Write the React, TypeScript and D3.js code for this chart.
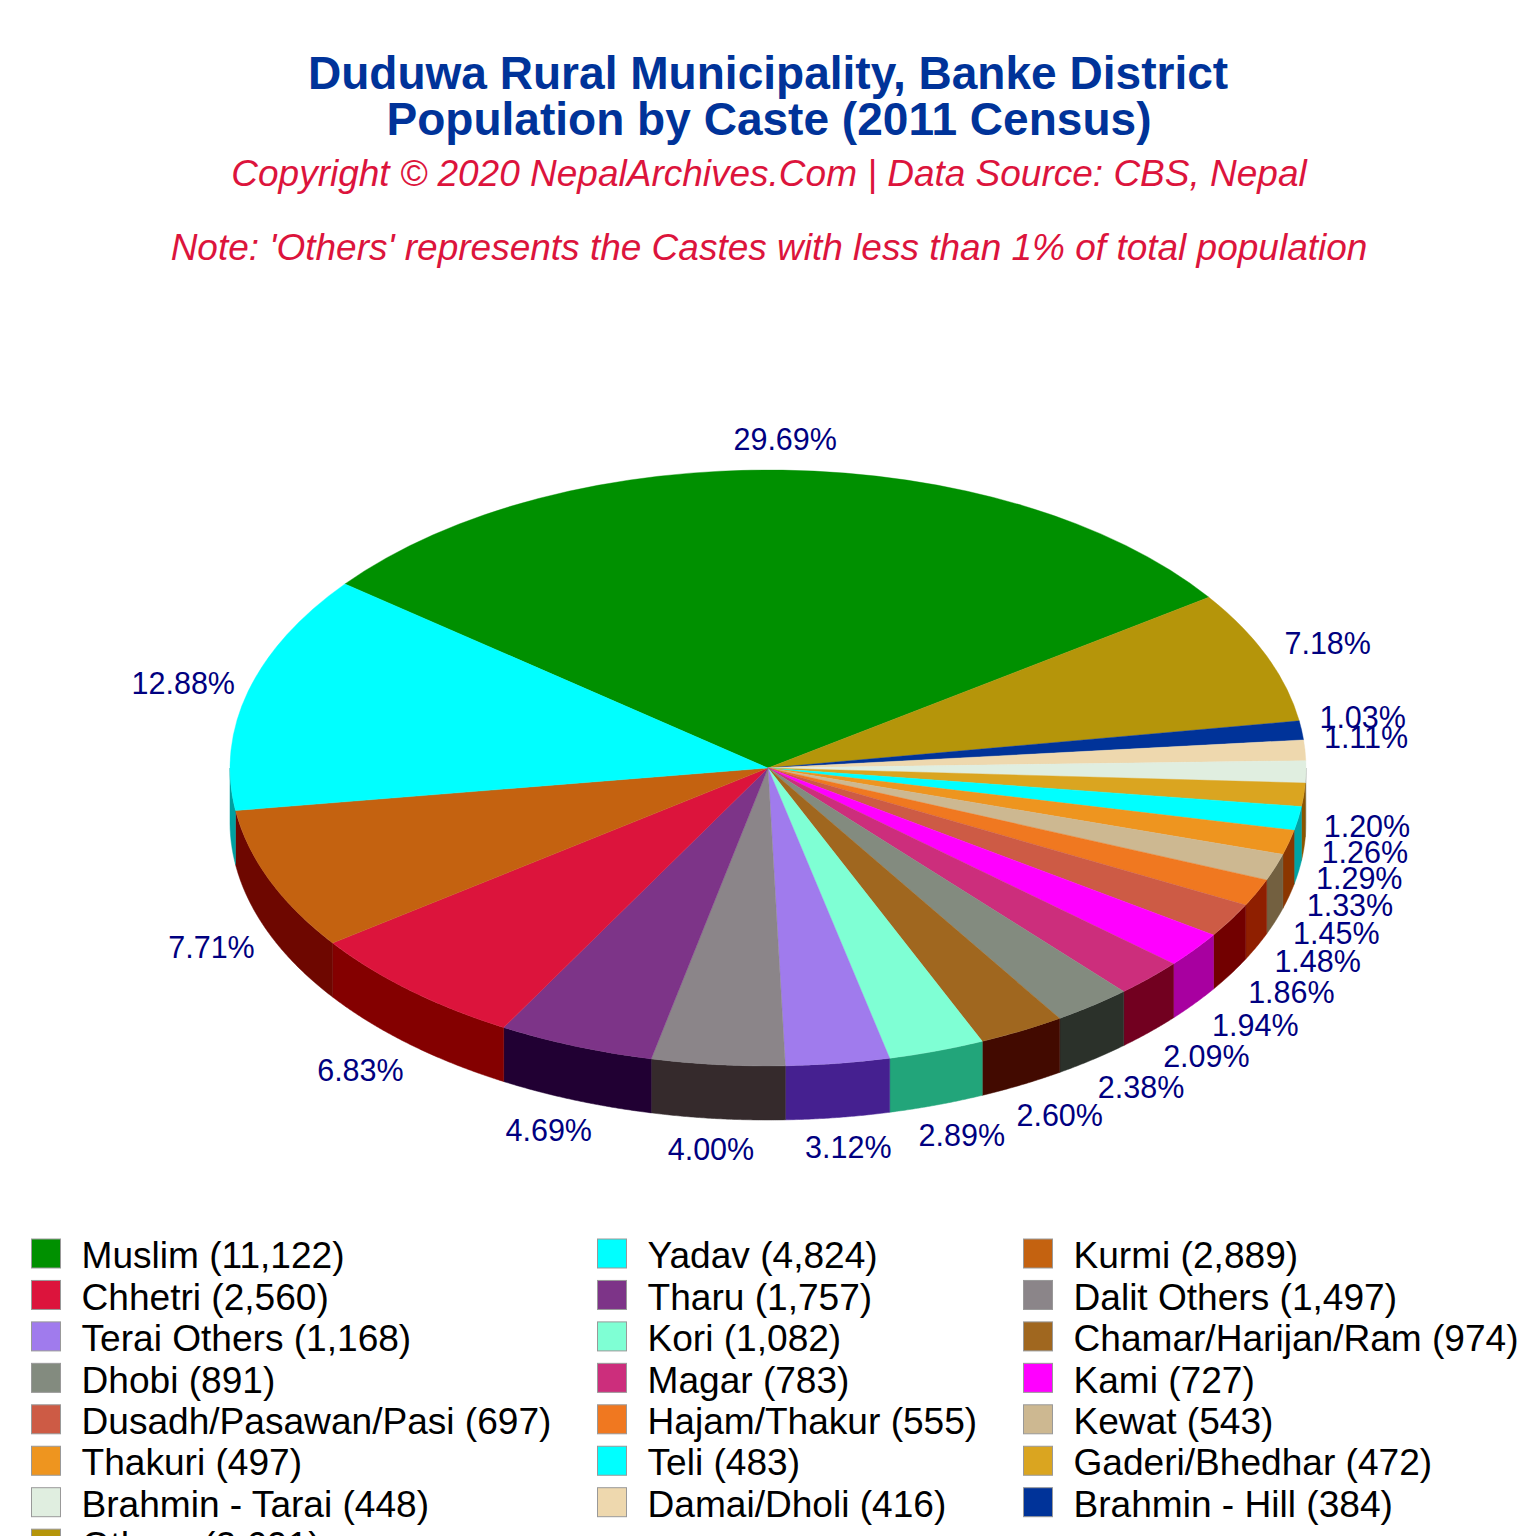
import * as d3 from "d3";

const castes = [
  "Muslim", "Others", "Brahmin - Hill", "Damai/Dholi", "Brahmin - Tarai", "Gaderi/Bhedhar", "Teli", "Thakuri",
  "Kewat", "Hajam/Thakur", "Dusadh/Pasawan/Pasi", "Kami", "Magar", "Dhobi", "Chamar/Harijan/Ram", "Kori",
  "Terai Others", "Dalit Others", "Tharu", "Chhetri", "Kurmi", "Yadav",
];
const population = [
  11122, 2691, 384, 416, 448, 472, 483, 497, 543, 555, 697, 727, 783, 891, 974, 1082, 1168, 1497, 1757, 2560, 2889, 4824,
];
const percentLabels = [
  "29.69%", "7.18%", "1.03%", "1.11%", "1.20%", "1.26%", "1.29%", "1.33%", "1.45%", "1.48%", "1.86%", "1.94%",
  "2.09%", "2.38%", "2.60%", "2.89%", "3.12%", "4.00%", "4.69%", "6.83%", "7.71%", "12.88%",
];
const topColors = [
  "#009000", "#b5950a", "#003399", "#eed8ae", "#e0eee0", "#daa520", "#00ffff", "#ee951f",
  "#cdb891", "#f07820", "#cd5b45", "#ff00ff", "#cc2e7c", "#838b7f", "#a0671f", "#7fffd4",
  "#a07bed", "#8b8589", "#7d3488", "#dc143c", "#c46210", "#00ffff",
];
const wallColors = [
  "#005000", "#6e5a00", "#001f60", "#8a7a58", "#8c948c", "#8a5500", "#00a3a3", "#8b3600",
  "#736040", "#8f1f00", "#720000", "#a800a0", "#720020", "#2b312a", "#420a00", "#22a57a",
  "#452090", "#352a2c", "#210033", "#840000", "#6e0700", "#00a0a0",
];
// Display order of the legend, read across the rows
const legendOrder = [
  "Muslim", "Yadav", "Kurmi", "Chhetri", "Tharu", "Dalit Others", "Terai Others", "Kori", "Chamar/Harijan/Ram",
  "Dhobi", "Magar", "Kami", "Dusadh/Pasawan/Pasi", "Hajam/Thakur", "Kewat", "Thakuri", "Teli", "Gaderi/Bhedhar",
  "Brahmin - Tarai", "Damai/Dholi", "Brahmin - Hill", "Others",
];

const CX = 768;
const CY = 768;
const RX = 538;
const RY = 298;
const DEPTH = 54;
const START = (-51.85 * Math.PI) / 180;
const LEGEND_COL_X = [31, 597, 1023];
const FONT = "'Liberation Sans', Arial, sans-serif";

const slices = d3
  .pie<number>()
  .sortValues(null)
  .startAngle(START)
  .endAngle(START + 2 * Math.PI)(population);

// point on the rim; angle is clockwise from 12 o'clock
const rim = (a: number, drop = 0): [number, number] => [
  CX + RX * Math.sin(a),
  CY - RY * Math.cos(a) + drop,
];

const topArc = d3.arc<d3.PieArcDatum<number>>().innerRadius(0).outerRadius(RX);
const rimLine = d3.line();

// wall is only visible on the front half of the ellipse
function wallPath(d: d3.PieArcDatum<number>) {
  const from = Math.max(d.startAngle, Math.PI / 2);
  const to = Math.min(d.endAngle, (3 * Math.PI) / 2);
  if (to <= from) return null;
  const angles = d3.range(from, to, 0.004).concat(to);
  const upper = angles.map((a) => rim(a));
  const lower = angles.map((a) => rim(a, DEPTH)).reverse();
  return rimLine([...upper, ...lower]) + "Z";
}

function labelPos(d: d3.PieArcDatum<number>) {
  const mid = (d.startAngle + d.endAngle) / 2;
  const s = Math.sin(mid);
  const c = Math.cos(mid);
  const front = c < 0;
  const [ex, ey] = rim(mid, front ? DEPTH : 0);
  let dx: number;
  if (s >= 0) dx = 61 * Math.min(1, s / 0.76);
  else if (front) dx = -58 * Math.min(1, -s / 0.78);
  else dx = -65;
  let dy: number;
  if (front) dy = Math.min(30, -c * 34);
  else if (c > 0.5) dy = -31;
  else dy = s < 0 ? -8 : -13;
  return [ex + dx, ey + dy];
}

export default function App() {
  return (
    <svg
      width={1536}
      height={1536}
      viewBox="0 0 1536 1536"
      style={{ position: "absolute", left: 0, top: 0, display: "block", background: "#fff" }}
      fontFamily={FONT}
    >
      <g textAnchor="middle">
        <text x={768} y={89} fontSize={46.05} fontWeight={700} fill="#003399">
          Duduwa Rural Municipality, Banke District
        </text>
        <text x={769} y={135} fontSize={46.05} fontWeight={700} fill="#003399">
          Population by Caste (2011 Census)
        </text>
        <text x={769} y={186} fontSize={37} fontStyle="italic" fill="#dc143c">
          Copyright © 2020 NepalArchives.Com | Data Source: CBS, Nepal
        </text>
        <text x={769} y={260} fontSize={37} fontStyle="italic" fill="#dc143c">
          Note: 'Others' represents the Castes with less than 1% of total population
        </text>
      </g>

      {/* walls first, top face goes over them */}
      <g>
        {slices.map((d, i) => {
          const p = wallPath(d);
          return p ? <path key={i} d={p} fill={wallColors[i]} stroke={wallColors[i]} strokeWidth={0.5} /> : null;
        })}
      </g>
      <g transform={`translate(${CX},${CY}) scale(1,${RY / RX})`}>
        {slices.map((d, i) => (
          <path key={i} d={topArc(d) ?? ""} fill={topColors[i]} stroke={topColors[i]} strokeWidth={0.5} />
        ))}
      </g>

      <g fontSize={30.5} fill="#000080" textAnchor="middle" dominantBaseline="central">
        {slices.map((d, i) => {
          const [x, y] = labelPos(d);
          return (
            <text key={i} x={x} y={y}>
              {percentLabels[i]}
            </text>
          );
        })}
      </g>

      <g fontSize={37.1} fill="#000">
        {legendOrder.map((name, i) => {
          const idx = castes.indexOf(name);
          const col = i % 3;
          const row = Math.floor(i / 3);
          const y = 1254 + row * 41.45;
          return (
            <g key={name}>
              <rect
                x={LEGEND_COL_X[col] + 0.5}
                y={y - 15}
                width={29}
                height={29}
                fill={topColors[idx]}
                stroke="#999"
                strokeWidth={1}
              />
              <text x={LEGEND_COL_X[col] + 50.5} y={y + 1.2} dominantBaseline="central">
                {`${name} (${d3.format(",")(population[idx])})`}
              </text>
            </g>
          );
        })}
      </g>
    </svg>
  );
}
